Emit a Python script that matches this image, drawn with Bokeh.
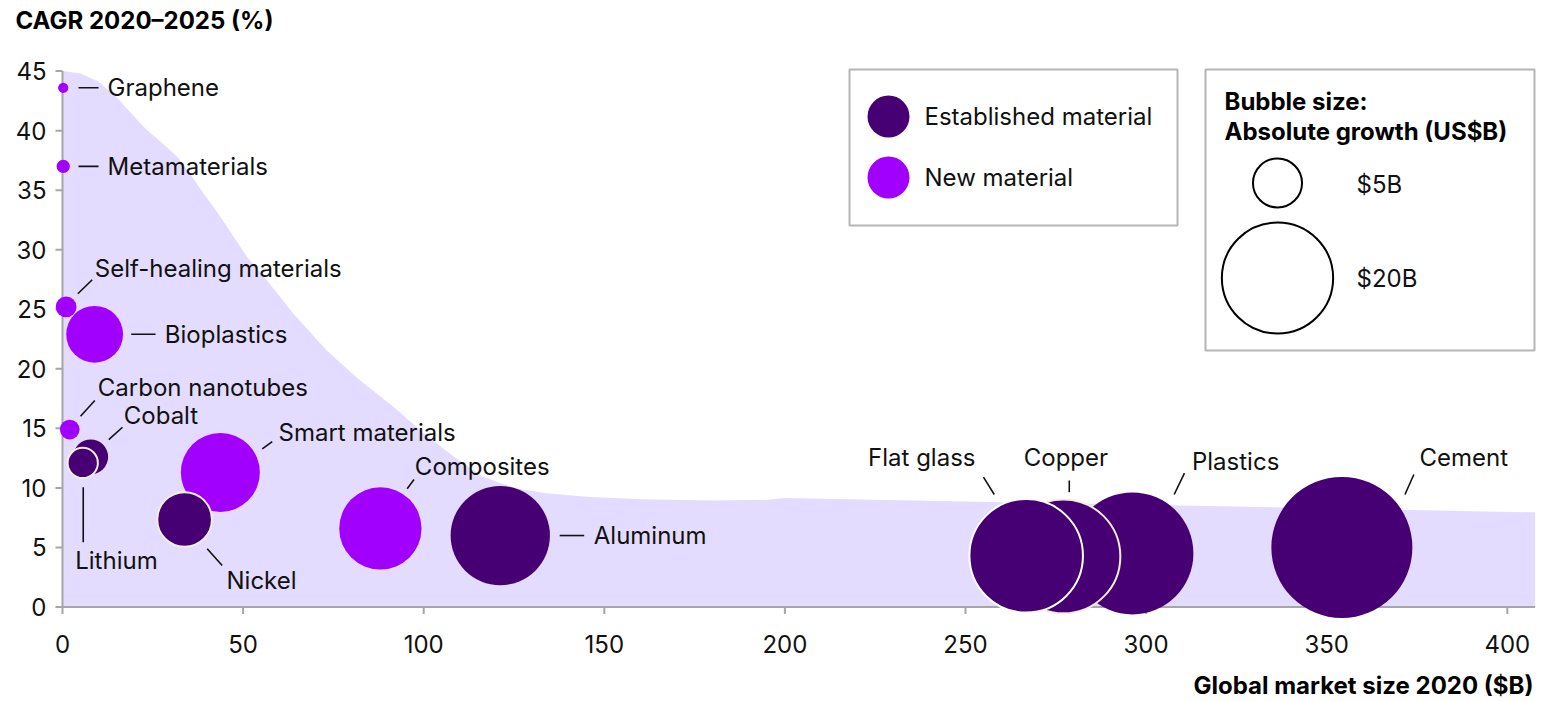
import numpy as np
from bokeh.plotting import figure
from bokeh.models import ColumnDataSource
from bokeh.core.properties import value
from bokeh.embed import file_html
from bokeh.resources import INLINE

# ---------------- data ----------------
materials = ["Cement", "Plastics", "Copper", "Flat glass", "Aluminum", "Composites",
             "Smart materials", "Nickel", "Bioplastics", "Cobalt", "Lithium",
             "Self-healing materials", "Carbon nanotubes", "Metamaterials", "Graphene"]
market_size_2020 = [354.2, 296.2, 277.1, 266.8, 121.2, 88.0, 43.7, 33.8, 8.9, 7.8, 5.6, 1.0, 2.0, 0.2, 0.2]
cagr_2020_2025 = [5.0, 4.5, 4.25, 4.3, 6.0, 6.6, 11.3, 7.35, 22.9, 12.6, 12.1, 25.2, 14.9, 37.0, 43.6]
absolute_growth = [29.9, 23.4, 20.8, 20.7, 16.5, 12.0, 11.2, 6.0, 6.4, 2.8, 2.2, 1.16, 1.06, 0.55, 0.35]
material_type = ["Established", "Established", "Established", "Established", "Established", "New",
                 "New", "Established", "New", "Established", "Established",
                 "New", "New", "New", "New"]

zone_x = [0, 5, 10, 15, 22.5, 27, 31.8, 35.5, 39.1, 42.5, 45.6, 51.1, 56.7, 64.0, 73.3, 82.5,
          91.7, 100, 108, 116, 125, 134, 145, 160, 180, 195, 200, 210, 407.7]
zone_y = [45, 44.8, 44.1, 42.8, 40.3, 39.1, 37.8, 36.3, 34.7, 33.3, 31.9, 29.4, 27.4, 24.6, 21.5, 19.0,
          16.8, 14.6, 12.7, 11.0, 10.0, 9.55, 9.25, 9.05, 8.95, 9.0, 9.15, 9.1, 7.95]

x_ticks = [0, 50, 100, 150, 200, 250, 300, 350, 400]
y_ticks = [0, 5, 10, 15, 20, 25, 30, 35, 40, 45]
x_tick_labels = [str(t) for t in x_ticks]
y_tick_labels = [str(t) for t in y_ticks]
x_title = "Global market size 2020 ($B)"
y_title = "CAGR 2020–2025 (%)"
size_legend_values = [5, 20]
size_legend_labels = ["$5B", "$20B"]
type_legend_labels = ["Established material", "New material"]
size_legend_title = ["Bubble size:", "Absolute growth (US$B)"]

# ---------------- styling / layout ----------------
EST = "#460073"
NEW = "#a100ff"
ZONE = "#e4dcff"
AXIS = "#a6a6a6"
FONT = "Inter"
FS = "24px"
TXT = "#111111"

PXX = 180.6 / 50.0    # px per x unit
PXY = 535.9 / 45.0    # px per y unit
X0, Y0 = 62.0, 606.5  # canvas px of the origin


def X(px):
    return (px - X0) / PXX


def Y(py):
    return (Y0 - py) / PXY


def bubble_px(v):
    return 19.0 * np.power(np.asarray(v, dtype=float), 0.59)


W, H = 1561, 701

p = figure(width=W, height=H, output_backend="svg", toolbar_location=None,
           x_range=(X(0), X(W)), y_range=(Y(H), Y(0)),
           x_axis_location=None, y_axis_location=None, min_border=0)
p.outline_line_color = None
p.grid.visible = False
p.background_fill_color = "white"
p.border_fill_color = "white"

txt_kw = dict(text_font=value(FONT), text_font_size=FS, text_color=TXT, text_baseline="middle")

# background zone
p.varea(x=zone_x, y1=[0] * len(zone_x), y2=zone_y, fill_color=ZONE)

# axis lines, ticks and tick labels
tick_len_x = 7 / PXY
tick_len_y = 7 / PXX
p.segment(x0=x_ticks, y0=[0] * len(x_ticks), x1=x_ticks, y1=[-tick_len_x] * len(x_ticks),
          line_color=AXIS, line_width=2)
p.segment(x0=[-tick_len_y] * len(y_ticks), y0=y_ticks, x1=[0] * len(y_ticks), y1=y_ticks,
          line_color=AXIS, line_width=2)
p.segment(x0=[0], y0=[0], x1=[zone_x[-1]], y1=[0], line_color=AXIS, line_width=2)
p.segment(x0=[0], y0=[0], x1=[0], y1=[y_ticks[-1]], line_color=AXIS, line_width=2)

p.text(x=x_ticks, y=[Y(643)] * len(x_ticks), text=x_tick_labels, text_align="center", **txt_kw)
p.text(x=[X(46)] * len(y_ticks), y=y_ticks, text=y_tick_labels, text_align="right", **txt_kw)

p.text(x=[X(15)], y=[Y(20)], text=[y_title], text_align="left", text_font_style="bold",
       text_font=value(FONT), text_font_size=FS, text_color="#000000", text_baseline="middle")
p.text(x=[X(1533)], y=[Y(685)], text=[x_title], text_align="right", text_font_style="bold",
       text_font=value(FONT), text_font_size=FS, text_color="#000000", text_baseline="middle")

# bubbles
outlined = {"Flat glass": "#ffffff", "Copper": "#f1eedc", "Lithium": "#f1eedc", "Nickel": "#f1eedc"}
src = ColumnDataSource(dict(
    x=market_size_2020, y=cagr_2020_2025, name=materials,
    size=list(bubble_px(absolute_growth)),
    color=[EST if t == "Established" else NEW for t in material_type],
    lcolor=[outlined.get(m, "#ffffff") for m in materials],
    lalpha=[1.0 if m in outlined else 0.0 for m in materials],
))
p.scatter(x="x", y="y", size="size", fill_color="color", line_color="lcolor",
          line_alpha="lalpha", line_width=2, source=src)

# labels and leader lines (offsets in px from bubble centre)
label_layout = {
    "Graphene": ((44.3, 0, "left"), (15.3, 0, 35.3, 0)),
    "Metamaterials": ((44.3, 0, "left"), (15.3, 0, 35.3, 0)),
    "Self-healing materials": ((28.7, -38.4, "left"), (11.7, -13.1, 26.1, -27.1)),
    "Bioplastics": ((70.2, 0, "left"), (36.6, 0, 60.9, 0)),
    "Carbon nanotubes": ((28.1, -42, "left"), (10.8, -13.3, 25.1, -29)),
    "Cobalt": ((33.1, -41.4, "left"), (18.1, -17.4, 31.8, -29.7)),
    "Lithium": ((-7.5, 97.6, "left"), (0.5, 24.3, 0.5, 79.3)),
    "Nickel": ((41.9, 61, "left"), (22.6, 29.3, 37.6, 46)),
    "Smart materials": ((58.2, -40.4, "left"), (41.9, -23.6, 51.9, -30.9)),
    "Composites": ((34.5, -62.1, "left"), (26.8, -39.6, 33.7, -48.9)),
    "Aluminum": ((93.5, 0, "left"), (59.4, 0, 83.9, 0)),
    "Flat glass": ((-50.7, -97.8, "right"), (-42.7, -78.6, -31.9, -61.3)),
    "Copper": ((2.5, -98.4, "center"), (5.9, -75.9, 5.9, -64.2)),
    "Plastics": ((59.6, -92.1, "left"), (52.1, -80.2, 41.8, -58.9)),
    "Cement": ((77.6, -89.5, "left"), (72, -73, 63.1, -53)),
}

lx0, ly0, lx1, ly1 = [], [], [], []
texts = {"left": dict(x=[], y=[], t=[]), "right": dict(x=[], y=[], t=[]), "center": dict(x=[], y=[], t=[])}
for m, xv, yv in zip(materials, market_size_2020, cagr_2020_2025):
    (tdx, tdy, al), (a, b, c, d) = label_layout[m]
    lx0.append(xv + a / PXX); ly0.append(yv - b / PXY)
    lx1.append(xv + c / PXX); ly1.append(yv - d / PXY)
    texts[al]["x"].append(xv + tdx / PXX)
    texts[al]["y"].append(yv - tdy / PXY)
    texts[al]["t"].append(m)
p.segment(x0=lx0, y0=ly0, x1=lx1, y1=ly1, line_color=TXT, line_width=1.6)
for al, dct in texts.items():
    if dct["t"]:
        p.text(x=dct["x"], y=dct["y"], text=dct["t"], text_align=al, **txt_kw)

# legend boxes
p.quad(left=[X(849), X(1205)], right=[X(1177), X(1534)], top=[Y(69), Y(69)],
       bottom=[Y(225), Y(350)], fill_color="white", line_color="#b5b5b5", line_width=2)
p.scatter(x=[X(888), X(888)], y=[Y(116), Y(177)], size=42, fill_color=[EST, NEW], line_color=None)
p.text(x=[X(924), X(924)], y=[Y(116), Y(177)], text=type_legend_labels, **txt_kw)
p.text(x=[X(1224), X(1224)], y=[Y(101), Y(131)], text=size_legend_title,
       text_baseline="middle", text_font=value(FONT), text_font_size=FS, text_font_style="bold",
       text_color="#000000")
p.scatter(x=[X(1277), X(1277)], y=[Y(182.5), Y(277.5)], size=list(bubble_px(size_legend_values)),
          fill_color=None, line_color="#000000", line_width=2)
p.text(x=[X(1356), X(1356)], y=[Y(184), Y(278)], text=size_legend_labels, **txt_kw)

open("out.html", "w").write(file_html(p, INLINE))
